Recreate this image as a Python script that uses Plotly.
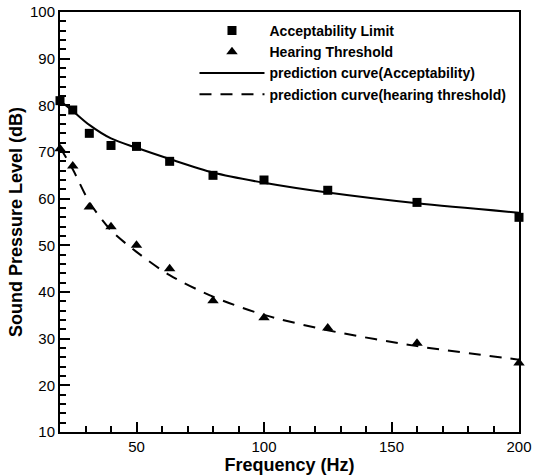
import plotly.graph_objects as go

# 1/3 octave band centre frequencies (Hz)
freq = [20, 25, 31.5, 40, 50, 63, 80, 100, 125, 160, 200]

# measured points
acceptability = [81.0, 79.0, 74.0, 71.4, 71.2, 68.0, 65.0, 64.0, 61.8, 59.2, 56.0]
hearing = [70.7, 67.0, 58.2, 54.0, 50.0, 45.0, 38.1, 34.5, 32.3, 29.0, 24.8]

# prediction curves
pred_accept = [81.0, 78.8, 75.8, 72.9, 70.9, 68.5, 65.6, 63.4, 61.3, 59.0, 57.0]
pred_hearing = [71.0, 66.3, 59.3, 53.2, 48.6, 43.6, 39.0, 35.1, 31.8, 28.4, 25.5]

font = "Arial, Liberation Sans, sans-serif"

fig = go.Figure()

fig.add_trace(go.Scatter(x=freq, y=acceptability, mode="markers", name="Acceptability Limit",
                         marker=dict(symbol="square", size=9, color="black"), cliponaxis=False))
fig.add_trace(go.Scatter(x=freq, y=hearing, mode="markers", name="Hearing Threshold",
                         marker=dict(symbol="triangle-up", size=10, color="black"), cliponaxis=False))
fig.add_trace(go.Scatter(x=freq, y=pred_accept, mode="lines", name="prediction curve(Acceptability)",
                         line=dict(color="black", width=2, shape="spline", smoothing=0.8)))
fig.add_trace(go.Scatter(x=freq, y=pred_hearing, mode="lines", name="prediction curve(hearing threshold)",
                         line=dict(color="black", width=2, dash="12px,9px", shape="spline", smoothing=0.8)))

axis_common = dict(showline=True, linecolor="black", linewidth=2, mirror=True, automargin=False,
                   showgrid=False, zeroline=False, ticks="inside", ticklen=10, tickwidth=2,
                   tickcolor="black", tickfont=dict(family=font, size=15, color="black"))

fig.update_xaxes(range=[20, 200], tick0=0, dtick=50,
                 minor=dict(ticks="inside", ticklen=6, tickwidth=1.5, dtick=10, tick0=0, tickcolor="black"),
                 title=dict(text="<b>Frequency (Hz)</b>", font=dict(family=font, size=18, color="black"),
                            standoff=0),
                 **axis_common)
fig.update_yaxes(range=[10, 100], tick0=0, dtick=10,
                 minor=dict(ticks="inside", ticklen=6, tickwidth=1.5, dtick=2, tick0=0, tickcolor="black"),
                 title=dict(text="<b>Sound Pressure Level (dB)</b>", font=dict(family=font, size=18, color="black"),
                            standoff=3),
                 **axis_common)

fig.update_layout(
    width=533, height=475,
    margin=dict(l=60, r=14, t=12, b=43),
    plot_bgcolor="white", paper_bgcolor="white",
    font=dict(family=font, color="black"),
    legend=dict(x=0.293, y=0.993, xanchor="left", yanchor="top", bgcolor="rgba(0,0,0,0)",
                font=dict(family=font, size=14, color="black", weight="bold"),
                itemwidth=65, tracegroupgap=0),
)

# page has an 8px default body margin; drop it so the figure sits at the top-left
fig.write_html("out.html", config={"displayModeBar": False},
               post_script="document.body.style.margin='0px';")
